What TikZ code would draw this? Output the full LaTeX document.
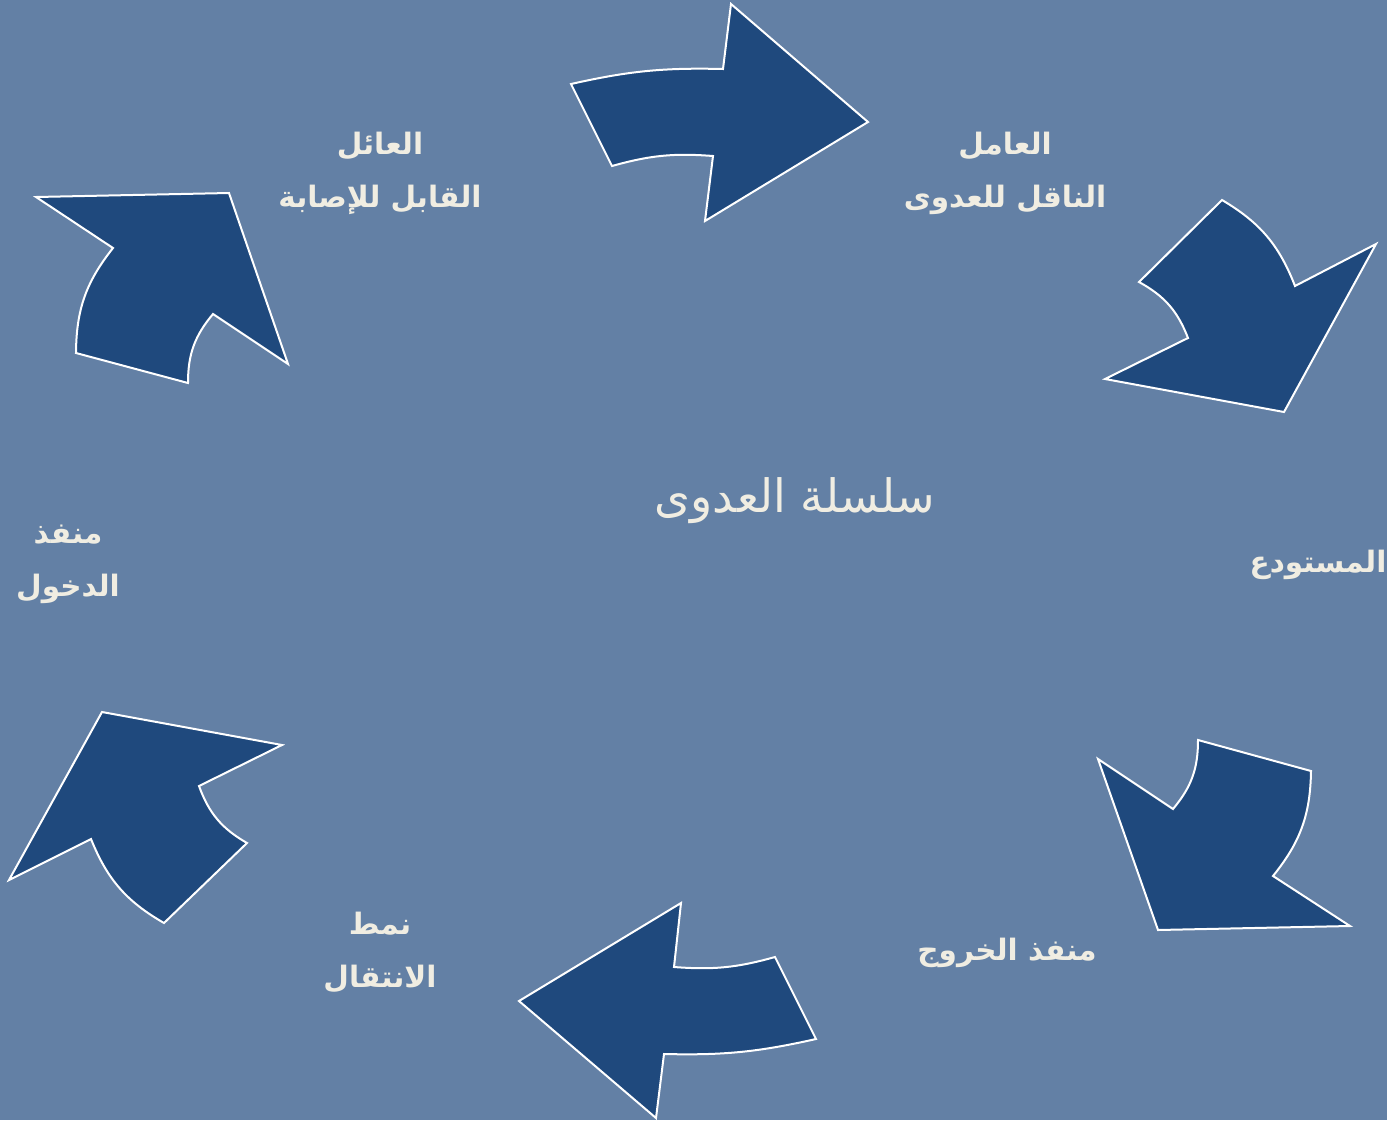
\documentclass[tikz,border=0pt]{standalone}
\usepackage{fontspec}
\newfontfamily\arabicfont[Script=Arabic]{DejaVu Sans}
\TeXXeTstate=1
\definecolor{bg}{RGB}{99,128,165}
\definecolor{arrowfill}{RGB}{31,73,125}
\definecolor{txt}{RGB}{240,237,226}
\tikzset{
  arrowshape/.style={fill=arrowfill, draw=white, line width=2pt, line join=miter},
  lbl/.style={text=txt, align=center, font=\arabicfont\bfseries\fontsize{29.5}{53}\selectfont, inner sep=0pt},
  title/.style={text=txt, font=\arabicfont\fontsize{46}{54}\selectfont, inner sep=0pt}
}
\begin{document}
\begin{tikzpicture}[x=1pt,y=-1pt]
\useasboundingbox (0,0) rectangle (1387,1120);
\fill[bg] (0,0) rectangle (1387,1120);
% top arrow
\path[arrowshape] (571,84) to[bend left=7] (723,69) -- (731,4) -- (868,122) -- (705,221) -- (713,156) to[bend right=10] (612,166) -- cycle;
% top right arrow
\path[arrowshape] (1222,200) to[bend left=19] (1295,286) -- (1376,244) -- (1284,412) -- (1105,379) -- (1188,338) to[bend right=20] (1139,282) -- cycle;
% bottom right arrow
\path[arrowshape] (1311,771) to[bend left=19] (1273,876) -- (1350,926) -- (1158,930) -- (1098,759) -- (1173,809) to[bend right=20] (1198,740) -- cycle;
% bottom arrow
\path[arrowshape] (816,1039) to[bend left=7] (664,1054) -- (656,1118) -- (519,1001) -- (681,903) -- (674,967) to[bend right=10] (775,957) -- cycle;
% bottom left arrow
\path[arrowshape] (164,923) to[bend left=19] (91,839) -- (9,880) -- (102,712) -- (282,745) -- (199,786) to[bend right=20] (247,843) -- cycle;
% top left arrow
\path[arrowshape] (76,353) to[bend left=19] (113,248) -- (36,197) -- (229,193) -- (288,364) -- (213,314) to[bend right=20] (188,383) -- cycle;
% labels
\node[title] (chain) at (795,501) {\beginR سلسلة العدوى\endR};
\node[lbl] (host) at (380,173) {\beginR العائل\endR\\\beginR القابل للإصابة\endR};
\node[lbl] (agent) at (1005,173) {\beginR العامل\endR\\\beginR الناقل للعدوى\endR};
\node[lbl] (reservoir) at (1318,565) {\beginR المستودع\endR};
\node[lbl] (exit) at (1007,953) {\beginR منفذ الخروج\endR};
\node[lbl] (mode) at (380,952) {\beginR نمط\endR\\\beginR الانتقال\endR};
\node[lbl] (entry) at (68,564) {\beginR منفذ\endR\\\beginR الدخول\endR};
\end{tikzpicture}
\end{document}
